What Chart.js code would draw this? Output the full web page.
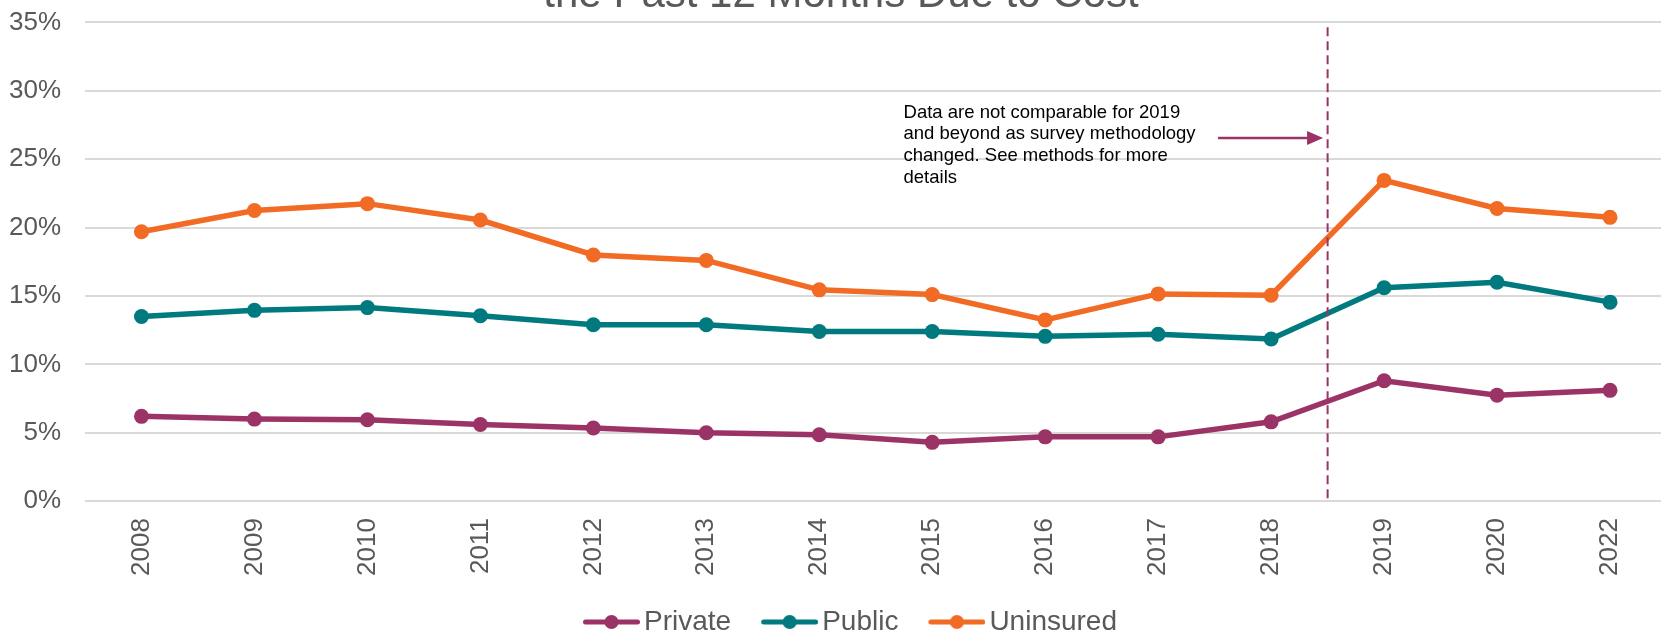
<!DOCTYPE html>
<html>
<head>
<meta charset="utf-8">
<script src="https://cdn.jsdelivr.net/npm/chart.js@4.4.1/dist/chart.umd.min.js"></script>
<style>
  html, body { margin: 0; padding: 0; background: #fff; overflow: hidden; }
  body { width: 1661px; height: 633px; position: relative; }
  .chart-box { position: absolute; top: -30px; left: 0; width: 1674px; height: 680px; }
</style>
</head>
<body>
<div class="chart-box"><canvas id="costChart"></canvas></div>
<script>
  // chart data
  const years = ["2008", "2009", "2010", "2011", "2012", "2013", "2014", "2015", "2016", "2017", "2018", "2019", "2020", "2022"];
  const privateVals = [6.2, 6.0, 5.95, 5.6, 5.35, 5.0, 4.85, 4.3, 4.7, 4.7, 5.8, 8.8, 7.75, 8.1];
  const publicVals = [13.5, 13.95, 14.15, 13.55, 12.9, 12.9, 12.4, 12.4, 12.05, 12.2, 11.85, 15.6, 16.0, 14.55];
  const uninsuredVals = [19.7, 21.25, 21.75, 20.55, 18.0, 17.6, 15.45, 15.1, 13.25, 15.15, 15.05, 23.45, 21.4, 20.75];
  const yTicks = [0, 5, 10, 15, 20, 25, 30, 35];

  const titleText = "the Past 12 Months Due to Cost";
  const noteLines = [
    "Data are not comparable for 2019",
    "and beyond as survey methodology",
    "changed. See methods for more",
    "details"
  ];

  const FONT = "'Liberation Sans', Arial, Helvetica, sans-serif";
  const GREY = "#595959";
  const colors = { priv: "#9b3366", pub: "#007a7f", unins: "#f26b25" };
  const noteColor = "#9b3366";

  // little "line with a dot" icon for the legend (blank space on its left)
  function legendIcon(color) {
    const c = document.createElement("canvas");
    c.width = 85;
    c.height = 16;
    const g = c.getContext("2d");
    g.strokeStyle = color;
    g.lineWidth = 5;
    g.lineCap = "round";
    g.beginPath();
    g.moveTo(30.5, 8);
    g.lineTo(82.5, 8);
    g.stroke();
    g.fillStyle = color;
    g.beginPath();
    g.arc(56.5, 8, 7, 0, Math.PI * 2);
    g.fill();
    return c;
  }

  // dashed divider, arrow and note
  const methodNote = {
    id: "methodNote",
    afterDatasetsDraw(chart) {
      const { ctx, scales: { x, y }, chartArea } = chart;
      const lx = x.getPixelForValue(10.5);
      ctx.save();
      ctx.strokeStyle = noteColor;
      ctx.lineWidth = 2;
      ctx.setLineDash([9, 5]);
      ctx.beginPath();
      ctx.moveTo(lx, y.getPixelForValue(34.65));
      ctx.lineTo(lx, chartArea.bottom);
      ctx.stroke();
      ctx.setLineDash([]);

      // arrow
      const ay = y.getPixelForValue(26.55);
      const ax1 = x.getPixelForValue(9.53);
      const ax2 = x.getPixelForValue(10.46);
      ctx.lineWidth = 2.5;
      ctx.beginPath();
      ctx.moveTo(ax1, ay);
      ctx.lineTo(ax2 - 14, ay);
      ctx.stroke();
      ctx.fillStyle = noteColor;
      ctx.beginPath();
      ctx.moveTo(ax2, ay);
      ctx.lineTo(ax2 - 16, ay - 7);
      ctx.lineTo(ax2 - 16, ay + 7);
      ctx.closePath();
      ctx.fill();

      // note text
      ctx.fillStyle = "#000";
      ctx.font = "18.5px " + FONT;
      ctx.textAlign = "left";
      ctx.textBaseline = "alphabetic";
      const tx = x.getPixelForValue(6.746);
      const ty = y.getPixelForValue(28.03);
      noteLines.forEach((line, i) => {
        ctx.fillText(line, tx, ty + i * 21.7);
      });
      ctx.restore();
    }
  };

  function series(label, data, color) {
    return {
      label: label,
      data: data,
      borderColor: color,
      backgroundColor: color,
      pointBackgroundColor: color,
      pointBorderWidth: 0,
      pointRadius: 7.5,
      pointHoverRadius: 7.5,
      borderWidth: 5.5,
      tension: 0,
      fill: false,
      legendIcon: legendIcon(color)
    };
  }

  new Chart("costChart", {
    type: "line",
    data: {
      labels: years,
      datasets: [
        series("Private", privateVals, colors.priv),
        series("Public", publicVals, colors.pub),
        series("Uninsured", uninsuredVals, colors.unins)
      ]
    },
    options: {
      responsive: true,
      maintainAspectRatio: false,
      animation: false,
      layout: { padding: { left: 8, right: 0, top: 0, bottom: 4 } },
      plugins: {
        title: {
          display: true,
          text: titleText,
          color: GREY,
          font: { family: FONT, size: 42, weight: "normal" },
          padding: { top: 0, bottom: 2 }
        },
        legend: {
          position: "bottom",
          labels: {
            usePointStyle: true,
            pointStyleWidth: 65,
            padding: 12,
            color: GREY,
            font: { family: FONT, size: 28 },
            generateLabels(chart) {
              const items = Chart.defaults.plugins.legend.labels.generateLabels(chart);
              items.forEach((it) => {
                it.pointStyle = chart.data.datasets[it.datasetIndex].legendIcon;
              });
              return items;
            }
          }
        },
        tooltip: { enabled: false }
      },
      scales: {
        x: {
          offset: true,
          grid: { display: false, drawTicks: false },
          border: { display: false },
          afterFit(scale) {
            scale.height += 3;
          },
          ticks: {
            autoSkip: false,
            maxRotation: 90,
            minRotation: 90,
            padding: 17,
            color: GREY,
            font: { family: FONT, size: 26 }
          }
        },
        y: {
          min: 0,
          max: 35,
          afterBuildTicks(scale) {
            scale.ticks = yTicks.map((v) => ({ value: v }));
          },
          afterFit(scale) {
            scale.width = 77;
          },
          grid: { color: "#d9d9d9", lineWidth: 2, drawTicks: false },
          border: { display: false },
          ticks: {
            padding: 24,
            color: GREY,
            font: { family: FONT, size: 26 },
            callback: (v) => v + "%"
          }
        }
      }
    },
    plugins: [methodNote]
  });
</script>
</body>
</html>
